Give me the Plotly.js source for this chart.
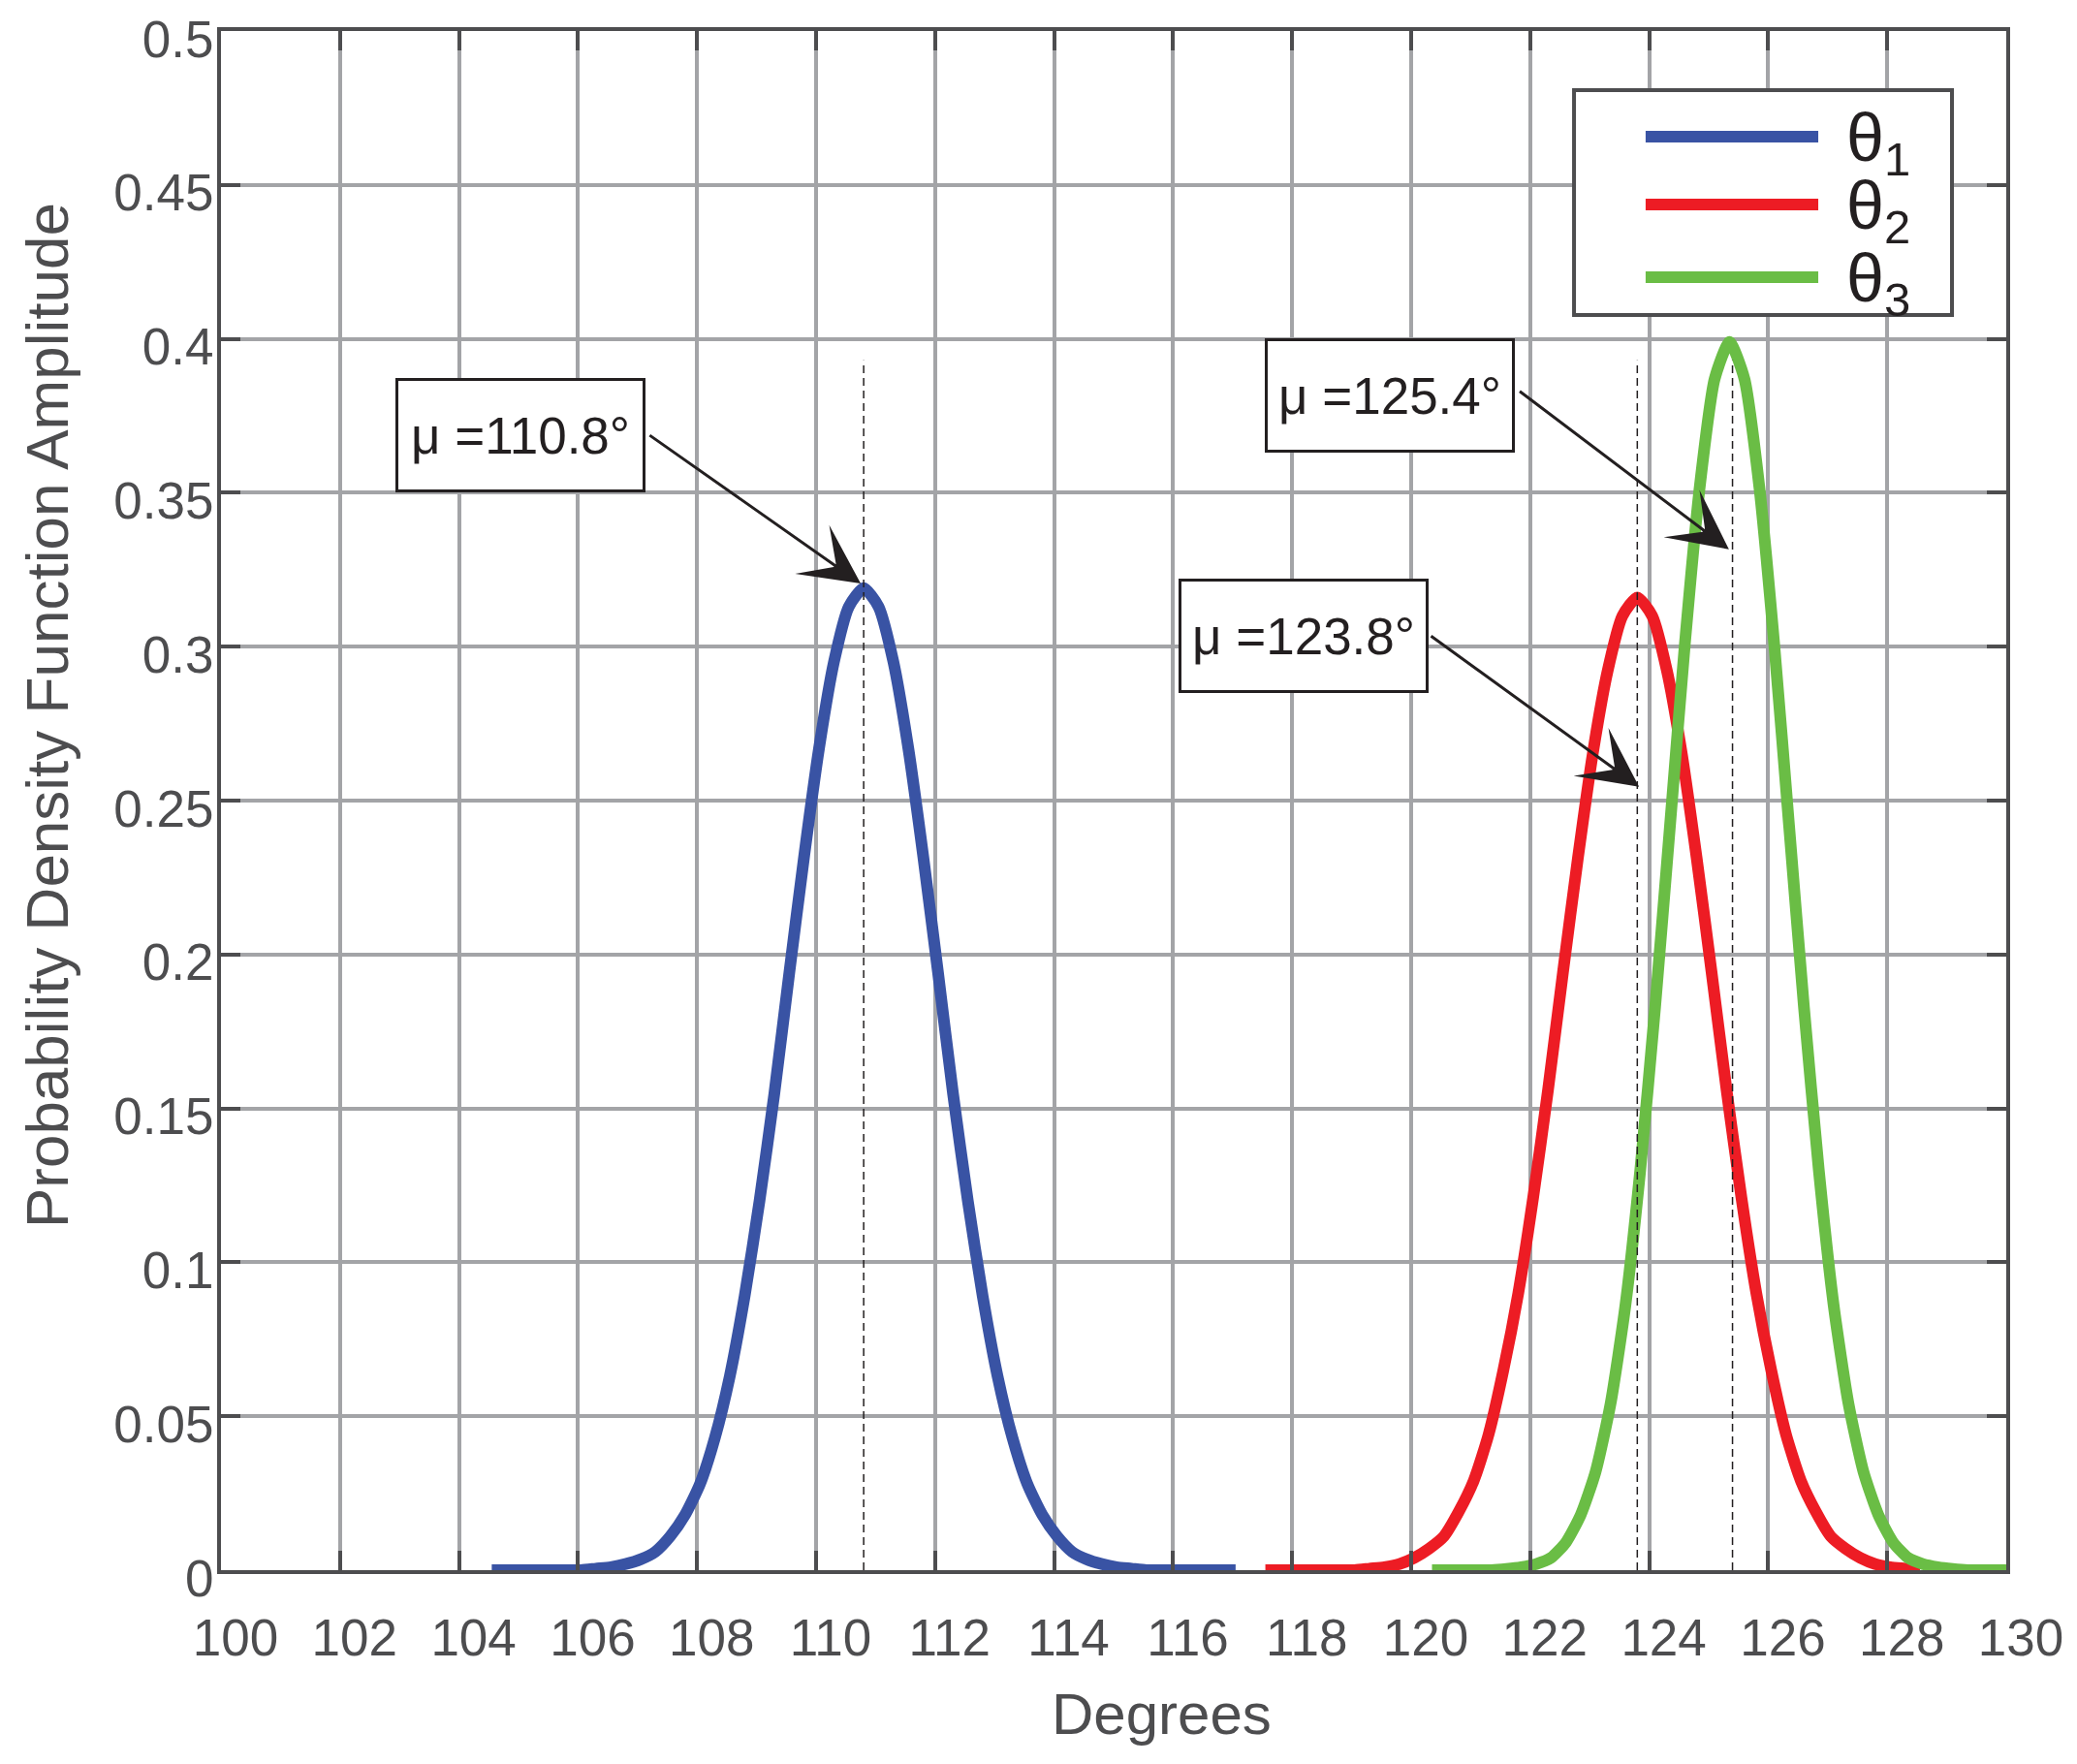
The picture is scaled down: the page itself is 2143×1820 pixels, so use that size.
<!DOCTYPE html>
<html>
<head>
<meta charset="utf-8">
<script src="https://cdn.plot.ly/plotly-3.0.1.min.js"></script>
<style>
  html, body { margin: 0; padding: 0; background: #fff; }
  #chart { width: 2143px; height: 1820px; }
</style>
</head>
<body>
<div id="chart"></div>
<script>
const blueStart = 104.55, redStart = 117.55, greenStart = 120.35, step = 0.25;

const blueY = [0, 0, 0, 0, 0, 0, 0, 0.0005, 0.001, 0.002, 0.0035, 0.006, 0.011, 0.018, 0.028,
  0.043, 0.063, 0.089, 0.120, 0.155, 0.194, 0.232, 0.267, 0.295, 0.313, 0.319, 0.313, 0.295,
  0.267, 0.232, 0.194, 0.155, 0.120, 0.089, 0.063, 0.043, 0.028, 0.018, 0.011, 0.006, 0.0035,
  0.002, 0.001, 0.0005, 0, 0, 0, 0, 0, 0, 0];

const redY = [0, 0, 0, 0, 0, 0, 0, 0.0005, 0.001, 0.002, 0.004, 0.007, 0.011, 0.019, 0.029,
  0.044, 0.065, 0.090, 0.121, 0.156, 0.194, 0.231, 0.265, 0.292, 0.310, 0.316, 0.310, 0.292,
  0.265, 0.231, 0.194, 0.156, 0.121, 0.090, 0.065, 0.044, 0.029, 0.019, 0.011, 0.007, 0.004,
  0.002, 0.001, 0.0005, 0];

const greenY = [0, 0, 0, 0, 0, 0.0004, 0.001, 0.002, 0.004, 0.009, 0.018, 0.032, 0.054, 0.086,
  0.130, 0.183, 0.242, 0.301, 0.352, 0.387, 0.399, 0.387, 0.352, 0.301, 0.242, 0.183, 0.130,
  0.086, 0.054, 0.032, 0.018, 0.009, 0.004, 0.002, 0.001, 0.0004, 0, 0, 0, 0];

const names = ['θ<sub>1</sub>', 'θ<sub>2</sub>', 'θ<sub>3</sub>'];
const colors = ['#3953a4', '#ed1c24', '#6abd45'];

const yTicks = [0, 0.05, 0.1, 0.15, 0.2, 0.25, 0.3, 0.35, 0.4, 0.45, 0.5];
const yTickText = ['0', '0.05', '0.1', '0.15', '0.2', '0.25', '0.3', '0.35', '0.4', '0.45', '0.5'];

// mean markers and their callouts
const means = [110.8, 123.8, 125.4];
const meanLabels = ['μ =110.8°', 'μ =123.8°', 'μ =125.4°'];
const dashTop = 0.393;
const arrowTips = [[110.75, 0.3205], [123.83, 0.2545], [125.34, 0.3316]];
const arrowTails = [[107.18, 0.369], [120.31, 0.3038], [121.80, 0.3833]];
const boxCenters = [[105.04, 0.3686], [118.19, 0.3036], [119.64, 0.3817]];

const axisColor = '#4d4d4f';
const gridColor = '#a3a4a7';
const inkColor = '#231f20';
const fontFamily = 'Liberation Sans, Arial, sans-serif';

function xs(start, n) {
  let out = [];
  for (let i = 0; i < n; i++) out.push(+(start + i * step).toFixed(2));
  return out;
}

const series = [[blueStart, blueY], [redStart, redY], [greenStart, greenY]];
const traces = series.map(([start, y], i) => ({
  type: 'scatter',
  mode: 'lines',
  x: xs(start, y.length),
  y: y,
  name: names[i],
  showlegend: false,
  line: { color: colors[i], width: 12, shape: 'spline', smoothing: 0.6 },
}));

let shapes = means.map(m => ({
  type: 'line', xref: 'x', yref: 'y', x0: m, x1: m, y0: 0, y1: dashTop,
  line: { color: inkColor, width: 1.5, dash: '8px,5px' }, layer: 'above',
}));

let annotations = [];
meanLabels.forEach((label, i) => {
  annotations.push({
    xref: 'x', yref: 'y', x: boxCenters[i][0], y: boxCenters[i][1],
    text: label, showarrow: false,
    font: { family: fontFamily, size: 53, color: inkColor },
    bgcolor: '#ffffff', bordercolor: inkColor, borderwidth: 3, borderpad: 0,
    width: 252, height: 112,
  });
  annotations.push({
    xref: 'x', yref: 'y', axref: 'x', ayref: 'y',
    x: arrowTips[i][0], y: arrowTips[i][1], ax: arrowTails[i][0], ay: arrowTails[i][1],
    text: '', showarrow: true, arrowhead: 3, arrowsize: 3.4, arrowwidth: 3,
    arrowcolor: inkColor, standoff: 0, startstandoff: 0,
  });
});

// legend box (drawn by hand, MATLAB style)
const legendBox = { x0: 0.7579, x1: 0.9696, y0: 0.8155, y1: 0.9616 };
const legendRows = [0.9313, 0.8873, 0.8401];
shapes.push({
  type: 'rect', xref: 'paper', yref: 'paper',
  x0: legendBox.x0, x1: legendBox.x1, y0: legendBox.y0, y1: legendBox.y1,
  fillcolor: '#ffffff', line: { color: axisColor, width: 4 }, layer: 'above',
});
legendRows.forEach((ry, i) => {
  shapes.push({
    type: 'line', xref: 'paper', yref: 'paper', x0: 0.798, x1: 0.8947, y0: ry, y1: ry,
    line: { color: colors[i], width: 12 }, layer: 'above',
  });
  annotations.push({
    xref: 'paper', yref: 'paper', x: 0.9095, y: ry - 0.004, xanchor: 'left', yanchor: 'middle',
    text: names[i], showarrow: false,
    font: { family: fontFamily, size: 70, color: inkColor },
  });
});

annotations.push({
  xref: 'paper', yref: 'paper', x: 0.5271, y: -0.0932, xanchor: 'center', yanchor: 'middle',
  text: 'Degrees', showarrow: false, font: { family: fontFamily, size: 60, color: axisColor },
});
annotations.push({
  xref: 'paper', yref: 'paper', x: -0.1175, y: 0.5554, xanchor: 'left', yanchor: 'middle',
  text: 'Probability Density Function Amplitude', textangle: -90, showarrow: false,
  font: { family: fontFamily, size: 62, color: axisColor },
});

const axisCommon = {
  showgrid: true, gridcolor: gridColor, gridwidth: 4,
  showline: true, linecolor: axisColor, linewidth: 4, mirror: 'ticks',
  ticks: 'inside', ticklen: 20, tickwidth: 4, tickcolor: axisColor,
  tickfont: { family: fontFamily, size: 53, color: axisColor },
  zeroline: false, fixedrange: true,
};

const layout = {
  width: 2143, height: 1820,
  margin: { l: 228, r: 73, t: 32, b: 200, pad: 0 },
  paper_bgcolor: '#ffffff', plot_bgcolor: '#ffffff',
  font: { family: fontFamily },
  xaxis: Object.assign({}, axisCommon, {
    range: [100, 130], tickmode: 'linear', tick0: 100, dtick: 2,
    ticklabelshift: 15, ticklabelstandoff: 20,
  }),
  yaxis: Object.assign({}, axisCommon, {
    range: [0, 0.5], tickmode: 'array', tickvals: yTicks, ticktext: yTickText,
    ticklabelshift: 8, ticklabelstandoff: -7,
  }),
  showlegend: false,
  shapes: shapes,
  annotations: annotations,
};

Plotly.newPlot('chart', traces, layout, { displayModeBar: false, staticPlot: true });
</script>
</body>
</html>
